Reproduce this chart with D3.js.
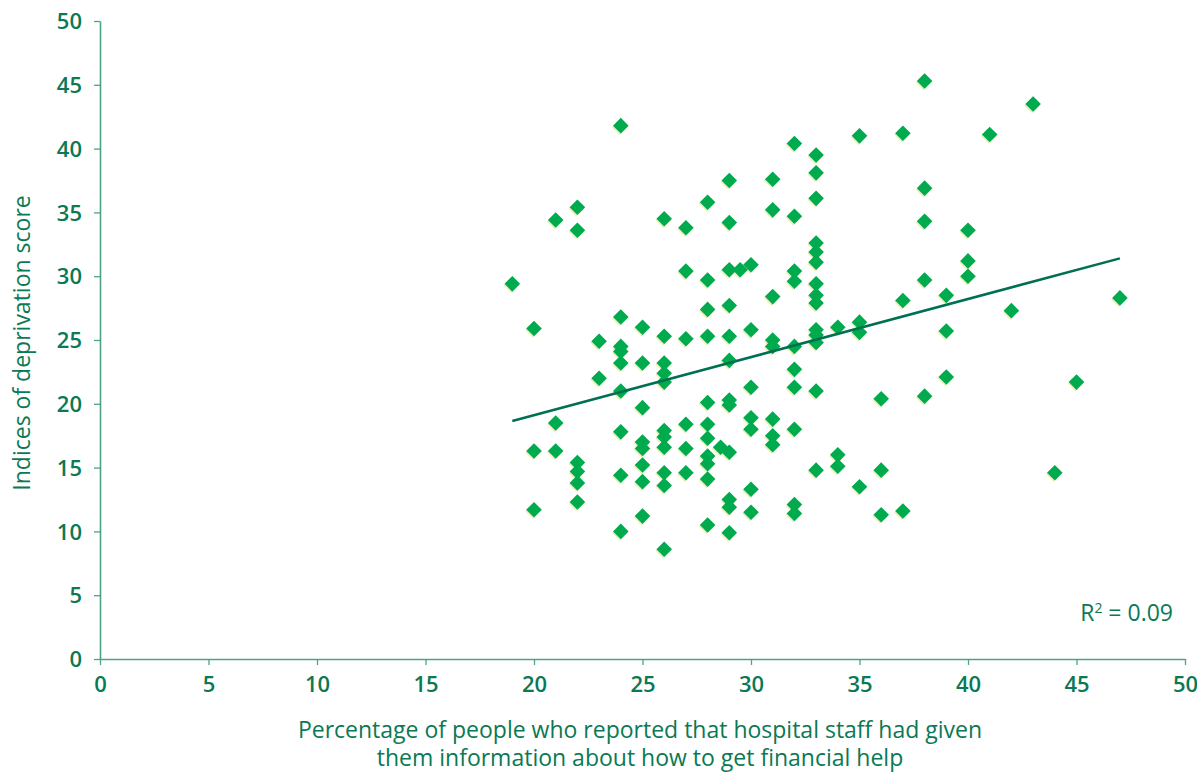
<!DOCTYPE html>
<html>
<head>
<meta charset="utf-8">
<script src="https://cdn.jsdelivr.net/npm/d3@7"></script>
<style>
  body { margin: 0; background: #fff; }
  svg { font-family: "Open Sans", "Noto Sans", sans-serif; }
</style>
</head>
<body>
<svg id="chart" width="1197" height="772"></svg>
<script>
// percentage who got financial-help info (x) per trust
const xValues = [
    19,
    20, 20, 20,
    21, 21, 21,
    22, 22, 22, 22, 22, 22,
    23, 23,
    24, 24, 24, 24, 24, 24, 24, 24, 24,
    25, 25, 25, 25, 25, 25, 25, 25,
    26, 26, 26, 26, 26, 26, 26, 26, 26, 26, 26,
    27, 27, 27, 27, 27, 27,
    28, 28, 28, 28, 28, 28, 28, 28, 28, 28, 28,
    28.6,
    29, 29, 29, 29, 29, 29, 29, 29, 29, 29, 29, 29,
    29.5,
    30, 30, 30, 30, 30, 30, 30,
    31, 31, 31, 31, 31, 31, 31, 31,
    32, 32, 32, 32, 32, 32, 32, 32, 32, 32,
    33, 33, 33, 33, 33, 33, 33, 33, 33, 33, 33, 33, 33, 33,
    34, 34, 34,
    35, 35, 35, 35,
    36, 36, 36,
    37, 37, 37,
    38, 38, 38, 38, 38,
    39, 39, 39,
    40, 40, 40,
    41, 42, 43, 44, 45, 47
];
// indices of deprivation score (y)
const yValues = [
    29.4,
    25.9, 16.3, 11.7,
    34.4, 18.5, 16.3,
    35.4, 33.6, 15.4, 14.7, 13.8, 12.3,
    24.9, 22.0,
    41.8, 26.8, 24.5, 24.1, 23.2, 21.0, 17.8, 14.4, 10.0,
    26.0, 23.2, 19.7, 17.0, 16.5, 15.2, 13.9, 11.2,
    34.5, 25.3, 23.2, 22.4, 21.7, 17.9, 17.4, 16.6, 14.6, 13.6, 8.6,
    33.8, 30.4, 25.1, 18.4, 16.5, 14.6,
    35.8, 29.7, 27.4, 25.3, 20.1, 18.4, 17.3, 15.9, 15.3, 14.1, 10.5,
    16.6,
    37.5, 34.2, 30.5, 27.7, 25.3, 23.4, 20.3, 19.9, 16.2, 12.5, 11.9, 9.9,
    30.5,
    30.9, 25.8, 21.3, 18.9, 18.0, 13.3, 11.5,
    37.6, 35.2, 28.4, 25.0, 24.5, 18.8, 17.5, 16.8,
    40.4, 34.7, 30.4, 29.6, 24.5, 22.7, 21.3, 18.0, 12.1, 11.4,
    39.5, 38.1, 36.1, 32.6, 31.9, 31.1, 29.4, 28.5, 27.9, 25.8, 25.4, 24.8, 21.0, 14.8,
    26.0, 16.0, 15.1,
    41.0, 26.4, 25.6, 13.5,
    20.4, 14.8, 11.3,
    41.2, 28.1, 11.6,
    45.3, 36.9, 34.3, 29.7, 20.6,
    28.5, 25.7, 22.1,
    33.6, 31.2, 30.0,
    41.1, 27.3, 43.5, 14.6, 21.7, 28.3
];
// fitted trend line ends
const trendX = [19, 47];
const trendY = [18.65, 31.4];
const xTicks = [0, 5, 10, 15, 20, 25, 30, 35, 40, 45, 50];
const yTicks = [0, 5, 10, 15, 20, 25, 30, 35, 40, 45, 50];
const rSquared = "0.09";
const xTitleLines = [
    "Percentage of people who reported that hospital staff had given",
    "them information about how to get financial help"
];

const textColor = "#0a7954";
const axisColor = "#4ea383";
const dotColor = "#00aa4e";
const fontSize = "23px";

const svg = d3.select("#chart");
const mLeft = 100, mRight = 1185, mTop = 21, mBottom = 659;

const xScale = d3.scaleLinear().domain([0, 50]).range([mLeft, mRight]);
const yScale = d3.scaleLinear().domain([0, 50]).range([mBottom, mTop]);

const points = xValues.map((x, i) => ({ x: x, y: yValues[i] }));

// axes
const xAxis = svg.append("g")
    .attr("transform", `translate(0,${mBottom})`)
    .call(d3.axisBottom(xScale).tickValues(xTicks).tickSize(6).tickSizeOuter(0).tickPadding(10));
const yAxis = svg.append("g")
    .attr("transform", `translate(${mLeft},0)`)
    .call(d3.axisLeft(yScale).tickValues(yTicks).tickSize(6).tickSizeOuter(0).tickPadding(12));

[xAxis, yAxis].forEach(ax => {
    ax.select(".domain").attr("stroke", axisColor).attr("stroke-width", 1.6);
    ax.selectAll(".tick line").attr("stroke", axisColor).attr("stroke-width", 1.3);
    ax.selectAll(".tick text")
        .attr("fill", textColor)
        .style("font-size", "22px")
        .style("font-weight", 600)
        .style("font-family", '"Open Sans", "Noto Sans", sans-serif');
});
yAxis.selectAll(".tick text").attr("dy", "0.35em");
xAxis.selectAll(".tick text").attr("dy", "0.78em");

// markers: faint shadow then diamond
const diamond = d3.symbol().type(d3.symbolDiamond2).size(155);
svg.append("g").selectAll("path.shadow")
    .data(points)
    .enter()
    .append("path")
    .attr("class", "shadow")
    .attr("d", diamond)
    .attr("transform", d => `translate(${xScale(d.x) - 1},${yScale(d.y) + 1.5})`)
    .attr("fill", "#eeeebb");
svg.append("g").selectAll("path.dot")
    .data(points)
    .enter()
    .append("path")
    .attr("class", "dot")
    .attr("d", diamond)
    .attr("transform", d => `translate(${xScale(d.x)},${yScale(d.y)})`)
    .attr("fill", dotColor);

// trend line
svg.append("line")
    .attr("x1", xScale(trendX[0]))
    .attr("y1", yScale(trendY[0]))
    .attr("x2", xScale(trendX[1]))
    .attr("y2", yScale(trendY[1]))
    .attr("stroke", "#007052")
    .attr("stroke-width", 2.5);

// R squared label
const r2 = svg.append("text")
    .attr("x", 1173)
    .attr("y", 621)
    .attr("text-anchor", "end")
    .attr("fill", textColor)
    .style("font-size", fontSize);
r2.append("tspan").text("R");
r2.append("tspan").attr("dy", -8).style("font-size", "14px").text("2");
r2.append("tspan").attr("dy", 8).text(" = " + rSquared);

// axis titles
svg.selectAll("text.xtitle")
    .data(xTitleLines)
    .enter()
    .append("text")
    .attr("class", "xtitle")
    .attr("x", 640)
    .attr("y", (d, i) => 738 + i * 28)
    .attr("text-anchor", "middle")
    .attr("fill", textColor)
    .style("font-size", fontSize)
    .text(d => d);

svg.append("text")
    .attr("transform", `translate(30,343) rotate(-90)`)
    .attr("text-anchor", "middle")
    .attr("fill", textColor)
    .style("font-size", fontSize)
    .text("Indices of deprivation score");
</script>
</body>
</html>
